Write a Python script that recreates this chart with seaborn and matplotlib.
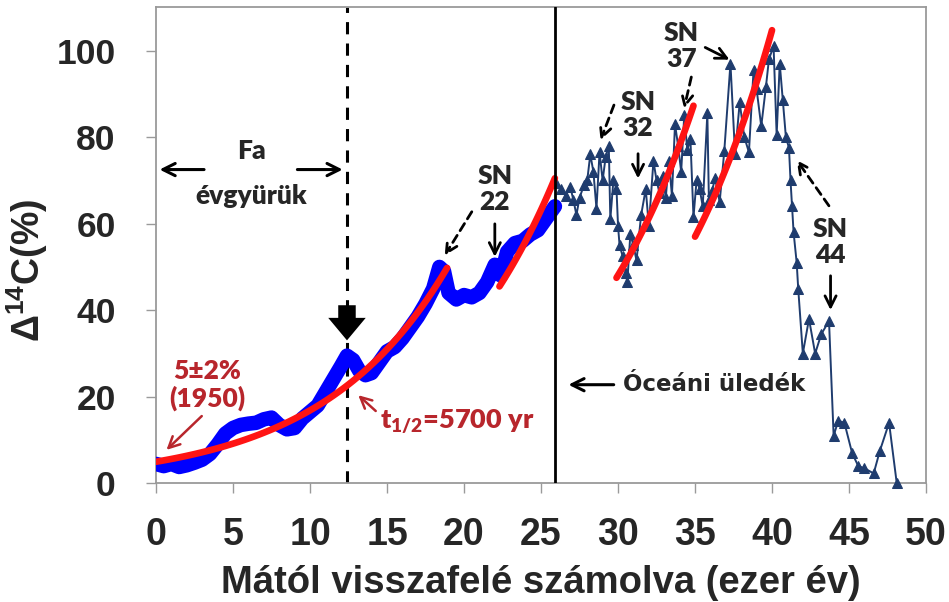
import numpy as np
import pandas as pd
import matplotlib
matplotlib.use("Agg")
import matplotlib.pyplot as plt
import seaborn as sns

# Tree-ring record, 0-26 thousand years before present
tree_age = [0.0, 0.5, 1.0, 1.5, 2.0, 2.5, 3.0, 3.5, 4.0, 4.5, 5.0, 5.5, 6.0, 6.5,
            7.0, 7.5, 8.0, 8.5, 9.0, 9.5, 10.0, 10.5, 11.0, 11.5, 12.0, 12.4,
            12.8, 13.2, 13.6, 14.0, 14.5, 15.0, 15.5, 16.0, 16.5, 17.0, 17.5,
            18.0, 18.4, 18.7, 19.0, 19.5, 20.0, 20.5, 21.0, 21.5, 22.0, 22.4,
            22.8, 23.3, 23.8, 24.3, 24.8, 25.3, 25.9]
tree_d14c = [4.5, 4.0, 4.5, 3.8, 4.2, 4.8, 5.5, 6.8, 9.0, 11.5, 12.8, 13.5, 13.8,
             14.0, 14.8, 15.2, 13.5, 12.5, 12.8, 15.0, 16.5, 18.0, 21.0, 24.0,
             27.0, 29.5, 28.5, 26.0, 25.0, 25.5, 28.0, 30.5, 31.5, 33.5, 36.0,
             38.5, 41.5, 45.0, 50.0, 49.0, 44.0, 42.5, 43.5, 43.0, 44.0, 46.5,
             50.5, 48.0, 53.5, 55.5, 56.0, 57.5, 58.5, 61.0, 64.0]

# Ocean sediment record, 26-48 thousand years before present
sed_age = [26.0, 26.3, 26.6, 26.9, 27.1, 27.3, 27.5, 27.8, 28.0, 28.2, 28.4, 28.6,
           28.8, 29.0, 29.2, 29.4, 29.5, 29.7, 29.9, 30.0, 30.1, 30.3, 30.5, 30.6,
           30.8, 31.0, 31.2, 31.5, 31.8, 32.0, 32.3, 32.5, 32.7, 32.9, 33.1, 33.3,
           33.5, 33.7, 33.9, 34.1, 34.3, 34.5, 34.7, 34.9, 35.1, 35.3, 35.5, 35.8,
           35.9, 36.1, 36.3, 36.6, 36.9, 37.3, 37.6, 37.9, 38.2, 38.5, 38.8, 39.0,
           39.3, 39.6, 39.8, 40.1, 40.3, 40.5, 40.7, 40.9, 41.1, 41.2, 41.3, 41.4,
           41.6, 41.7, 42.0, 42.4, 42.8, 43.2, 43.7, 44.0, 44.3, 44.7, 45.2, 45.6,
           46.0, 46.6, 47.0, 47.6, 48.1]
sed_d14c = [69.5, 68.0, 66.5, 68.5, 65.5, 62.0, 66.0, 69.0, 70.0, 76.0, 72.0, 63.5,
            76.5, 70.0, 75.5, 78.0, 61.0, 70.0, 68.0, 59.5, 55.0, 52.5, 48.5, 46.5,
            57.5, 55.0, 51.5, 62.0, 68.0, 59.5, 74.5, 70.0, 67.0, 71.0, 66.0, 74.5,
            66.5, 83.0, 78.0, 72.0, 85.0, 77.0, 79.5, 61.5, 70.0, 68.0, 64.0, 85.5,
            65.5, 67.5, 70.5, 65.0, 76.8, 97.0, 76.0, 88.0, 80.0, 76.5, 95.5, 91.0,
            82.5, 91.5, 98.0, 101.0, 80.5, 97.0, 88.5, 80.0, 77.5, 70.0, 64.0, 58.0,
            51.0, 45.0, 30.0, 38.0, 30.0, 34.5, 37.5, 11.0, 14.5, 14.0, 7.0, 4.0,
            3.5, 2.3, 7.5, 14.0, 0.0]

# Decay curves with the 5700 yr half-life: start age, end age, value at start
HALF_LIFE_KYR = 5.7
fit_start = [0.0, 22.3, 29.9, 35.0]
fit_end = [18.9, 25.9, 34.9, 40.0]
fit_y0 = [5.0, 45.5, 47.5, 57.0]

x_ticks = [0, 5, 10, 15, 20, 25, 30, 35, 40, 45, 50]
y_ticks = [0, 20, 40, 60, 80, 100]

sns.set_theme(style="white")
plt.rcParams["font.family"] = ["Liberation Sans", "DejaVu Sans"]

fig = plt.figure(figsize=(9.49, 6.02), dpi=100)
ax = fig.add_axes([0.1644, 0.197, 0.8114, 0.791])

tree = pd.DataFrame({"age": tree_age, "d14c": tree_d14c})
sed = pd.DataFrame({"age": sed_age, "d14c": sed_d14c})

sns.lineplot(data=tree, x="age", y="d14c", sort=False, color="#0000ff",
             lw=10.5, solid_capstyle="round", solid_joinstyle="round", ax=ax, zorder=3)

for s, e, y0 in zip(fit_start, fit_end, fit_y0):
    t = np.linspace(s, e, 60)
    seg = pd.DataFrame({"age": t, "d14c": y0 * 2 ** ((t - s) / HALF_LIFE_KYR)})
    sns.lineplot(data=seg, x="age", y="d14c", color="#ff1414", lw=4.8,
                 solid_capstyle="round", ax=ax, zorder=4)

sns.lineplot(data=sed, x="age", y="d14c", sort=False, color="#1f3c6e", lw=1.4,
             marker="^", markersize=7, markeredgecolor="#1f3c6e",
             markerfacecolor="#1f3c6e", ax=ax, zorder=3, clip_on=False)

# Boundaries between the records
ax.axvline(12.4, color="black", lw=2.2, ls=(0, (4, 3)), zorder=2)
ax.axvline(25.9, color="black", lw=2.0, zorder=5)

ax.set_xlim(0, 50)
ax.set_ylim(0, 110)
ax.set_xticks(x_ticks)
ax.set_yticks(y_ticks)
ax.set_xticklabels([str(v) for v in x_ticks], fontsize=27, fontweight="bold")
ax.set_yticklabels([str(v) for v in y_ticks], fontsize=25.5, fontweight="bold")
ax.tick_params(axis="both", direction="out", length=7, width=1, color="#9a9a9a",
               bottom=True, left=True)
ax.tick_params(axis="y", pad=22)
ax.tick_params(axis="x", pad=17)
for sp in ax.spines.values():
    sp.set_color("#9a9a9a")
    sp.set_linewidth(1.3)

ax.set_xlabel("Mától visszafelé számolva (ezer év)", fontsize=27.5,
              fontweight="bold", labelpad=9)
ax.set_ylabel(r"Δ$^{\mathregular{14}}$C(%)", fontsize=27, fontweight="bold")
ax.yaxis.set_label_coords(-0.138, 0.448)

lab = dict(family=["Lato", "DejaVu Sans"], fontweight="heavy", fontsize=19,
           ha="center", va="center", linespacing=1.1)
dark_red = "#b8262c"

# Tree-ring span
ax.text(6.2, 76.8, "Fa", **lab)
ax.text(6.2, 66.4, "évgyürük", **lab)
arrow_k = dict(arrowstyle="->", color="black", lw=2.2, mutation_scale=22)
ax.annotate("", xy=(0.05, 72.5), xytext=(3.3, 72.5), arrowprops=arrow_k)
ax.annotate("", xy=(12.3, 72.5), xytext=(9.0, 72.5), arrowprops=arrow_k)

# Ocean sediment span
ax.annotate("", xy=(26.6, 22.8), xytext=(29.9, 22.8), arrowprops=arrow_k)
ax.text(30.3, 22.8, "Óceáni üledék", family=["DejaVu Sans"], fontweight="bold",
        fontsize=16.5, ha="left", va="center")

# Present-day value and half-life labels
ax.text(3.3, 22.8, "5±2%\n(1950)", color=dark_red, **lab)
arrow_r = dict(arrowstyle="->", color=dark_red, lw=1.8, mutation_scale=20)
ax.annotate("", xy=(0.55, 7.3), xytext=(3.1, 16.0), arrowprops=arrow_r)
ax.annotate("", xy=(13.0, 20.8), xytext=(14.4, 16.3), arrowprops=arrow_r)
ax.text(14.55, 14.3, r"t$_{\mathregular{1/2}}$=5700 yr", color=dark_red,
        family=["Lato", "DejaVu Sans"], fontweight="heavy", fontsize=19.5,
        ha="left", va="center")

# Heavy marker at the record boundary
ax.annotate("", xy=(12.4, 32.4), xytext=(12.4, 41.8),
            arrowprops=dict(arrowstyle="simple,head_length=0.9,head_width=1.5,tail_width=0.7",
                            color="black", mutation_scale=18, lw=0))

# Supernova markers
arrow_d = dict(arrowstyle="->", color="black", lw=2.0, ls=(0, (3, 2)), mutation_scale=20)
arrow_s = dict(arrowstyle="->", color="black", lw=2.0, mutation_scale=20)

ax.text(22.0, 68.0, "SN\n22", **lab)
ax.annotate("", xy=(18.65, 52.1), xytext=(20.6, 63.3), arrowprops=arrow_d)
ax.annotate("", xy=(22.0, 51.7), xytext=(22.0, 60.6), arrowprops=arrow_s)

ax.text(31.3, 85.0, "SN\n32", **lab)
ax.annotate("", xy=(28.8, 78.7), xytext=(29.8, 88.0), arrowprops=arrow_d)
ax.annotate("", xy=(31.3, 69.8), xytext=(31.3, 76.8), arrowprops=arrow_s)

ax.text(34.1, 101.0, "SN\n37", **lab)
ax.annotate("", xy=(37.4, 97.6), xytext=(35.5, 101.0), arrowprops=arrow_s)
ax.annotate("", xy=(34.25, 86.0), xytext=(34.8, 94.5), arrowprops=arrow_d)

ax.text(43.8, 55.7, "SN\n44", **lab)
ax.annotate("", xy=(41.5, 75.2), xytext=(43.8, 63.6), arrowprops=arrow_d)
ax.annotate("", xy=(43.8, 39.4), xytext=(43.8, 48.6), arrowprops=arrow_s)

fig.savefig("out.png", dpi=100)
